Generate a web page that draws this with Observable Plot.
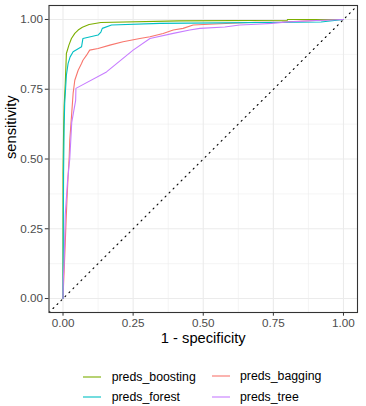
<!DOCTYPE html>
<html>
<head>
<meta charset="utf-8">
<script src="https://cdn.jsdelivr.net/npm/d3@7"></script>
<script src="https://cdn.jsdelivr.net/npm/@observablehq/plot@0.6"></script>
<style>
  html, body { margin: 0; padding: 0; background: #fff; }
  body { font-family: "Liberation Sans", Arial, sans-serif; width: 366px; }
  #legend { position: relative; width: 366px; height: 54px; font-size: 12.3px; color: #000; }
  .item { position: absolute; display: flex; align-items: center; height: 16px; }
  .item svg { display: block; }
</style>
</head>
<body>
<div id="chart"></div>
<div id="legend"></div>
<script>
// ---- data ----
const seriesNames = ["preds_bagging", "preds_boosting", "preds_forest", "preds_tree"];
const seriesColors = ["#F8766D", "#7CAE00", "#00BFC4", "#C77CFF"];

const boostingX = [0, 0, 0.002, 0.004, 0.008, 0.012, 0.021, 0.03, 0.042, 0.054, 0.069, 0.093, 0.135, 0.414, 0.8, 0.8, 1];
const boostingY = [0, 0.45, 0.6, 0.69, 0.77, 0.878, 0.908, 0.932, 0.95, 0.962, 0.972, 0.982, 0.989, 0.995, 0.997, 1, 1];

const forestX = [0, 0, 0.002, 0.004, 0.006, 0.012, 0.018, 0.025, 0.036, 0.066, 0.071, 0.125, 0.135, 0.14, 0.173, 0.345, 0.92, 1];
const forestY = [0, 0.04, 0.45, 0.62, 0.70, 0.80, 0.842, 0.865, 0.884, 0.902, 0.932, 0.944, 0.955, 0.968, 0.98, 0.986, 0.991, 1];

const baggingX = [0, 0.001, 0.004, 0.008, 0.011, 0.014, 0.018, 0.022, 0.024, 0.03, 0.036, 0.042, 0.054, 0.066, 0.071, 0.084, 0.095, 0.125, 0.167, 0.214, 0.274, 0.31, 0.357, 0.393, 0.428, 0.464, 0.52, 0.685, 0.78, 0.92, 1];
const baggingY = [0, 0.03, 0.10, 0.20, 0.28, 0.352, 0.436, 0.507, 0.567, 0.65, 0.735, 0.782, 0.818, 0.842, 0.854, 0.872, 0.89, 0.896, 0.908, 0.92, 0.932, 0.938, 0.95, 0.962, 0.968, 0.98, 0.983, 0.99, 0.991, 0.997, 1];

const treeX = [0, 0.001, 0.004, 0.008, 0.016, 0.024, 0.031, 0.045, 0.046, 0.155, 0.25, 0.31, 0.393, 0.452, 0.488, 0.577, 0.63, 0.69, 0.744, 0.80, 0.92, 1];
const treeY = [0, 0.07, 0.13, 0.30, 0.42, 0.50, 0.63, 0.71, 0.753, 0.812, 0.89, 0.932, 0.95, 0.962, 0.968, 0.973, 0.98, 0.983, 0.986, 0.991, 0.997, 1];

const majorTicks = [0, 0.25, 0.5, 0.75, 1];
const minorTicks = [0.125, 0.375, 0.625, 0.875];
const diagonal = [-0.05, 1.05];
const legendOrder = ["preds_boosting", "preds_forest", "preds_bagging", "preds_tree"];

// ---- build table ----
function rows(name, xs, ys) { return xs.map((x, i) => ({series: name, x, y: ys[i]})); }
const data = [
  ...rows("preds_bagging", baggingX, baggingY),
  ...rows("preds_boosting", boostingX, boostingY),
  ...rows("preds_forest", forestX, forestY),
  ...rows("preds_tree", treeX, treeY)
];
const diag = diagonal.map(v => ({x: v, y: v}));

const fmt = d3.format(".2f");
const chart = Plot.plot({
  width: 366,
  height: 352,
  marginLeft: 48.5,
  marginRight: 9,
  marginTop: 5,
  marginBottom: 40,
  style: {fontFamily: "'Liberation Sans', Arial, sans-serif", background: "#fff"},
  x: {domain: [-0.05, 1.05], label: null},
  y: {domain: [-0.05, 1.05], label: null},
  color: {domain: seriesNames, range: seriesColors},
  marks: [
    Plot.ruleX(minorTicks, {stroke: "#EBEBEB", strokeWidth: 0.55}),
    Plot.ruleY(minorTicks, {stroke: "#EBEBEB", strokeWidth: 0.55}),
    Plot.ruleX(majorTicks, {stroke: "#EBEBEB", strokeWidth: 1.1}),
    Plot.ruleY(majorTicks, {stroke: "#EBEBEB", strokeWidth: 1.1}),
    Plot.line(data, {x: "x", y: "y", z: "series", stroke: "series", strokeWidth: 1.1}),
    Plot.line(diag, {x: "x", y: "y", stroke: "#000", strokeWidth: 1.1, strokeDasharray: "1.1,4.55", clip: true}),
    Plot.frame({stroke: "#333", strokeWidth: 1.1}),
    Plot.axisX({ticks: majorTicks, tickFormat: fmt, tickSize: 3.7, tickPadding: 2.2, fontSize: 11.7, color: "#333", fill: "#4d4d4d", label: null}),
    Plot.axisY({ticks: majorTicks, tickFormat: fmt, tickSize: 3.7, tickPadding: 2.2, fontSize: 11.7, color: "#333", fill: "#4d4d4d", label: null}),
    Plot.text(["1 - specificity"], {text: d => d, frameAnchor: "bottom", dy: 30, fontSize: 14.7, fill: "#000"}),
    Plot.text(["sensitivity"], {text: d => d, frameAnchor: "left", dx: -38, rotate: -90, fontSize: 14.7, fill: "#000"})
  ]
});
document.getElementById("chart").appendChild(chart);

// ---- legend ----
const legendPos = {
  "preds_boosting": {left: 83, top: 16.7, textLeft: 111.7},
  "preds_forest":   {left: 83, top: 36.7, textLeft: 111.7},
  "preds_bagging":  {left: 211.7, top: 15.7, textLeft: 240},
  "preds_tree":     {left: 211.7, top: 36.7, textLeft: 240}
};
const legend = document.getElementById("legend");
const svgNS = "http://www.w3.org/2000/svg";
legendOrder.forEach(name => {
  const p = legendPos[name];
  const color = seriesColors[seriesNames.indexOf(name)];
  const item = document.createElement("div");
  item.className = "item";
  item.style.left = p.left + "px";
  item.style.top = p.top + "px";
  const svg = document.createElementNS(svgNS, "svg");
  svg.setAttribute("width", 18);
  svg.setAttribute("height", 16);
  svg.style.marginRight = (p.textLeft - p.left - 18) + "px";
  const ln = document.createElementNS(svgNS, "line");
  ln.setAttribute("x1", 0); ln.setAttribute("x2", 18);
  ln.setAttribute("y1", 8); ln.setAttribute("y2", 8);
  ln.setAttribute("stroke", color);
  ln.setAttribute("stroke-width", 1.1);
  svg.appendChild(ln);
  const label = document.createElement("span");
  label.textContent = name;
  item.appendChild(svg);
  item.appendChild(label);
  legend.appendChild(item);
});
</script>
</body>
</html>
